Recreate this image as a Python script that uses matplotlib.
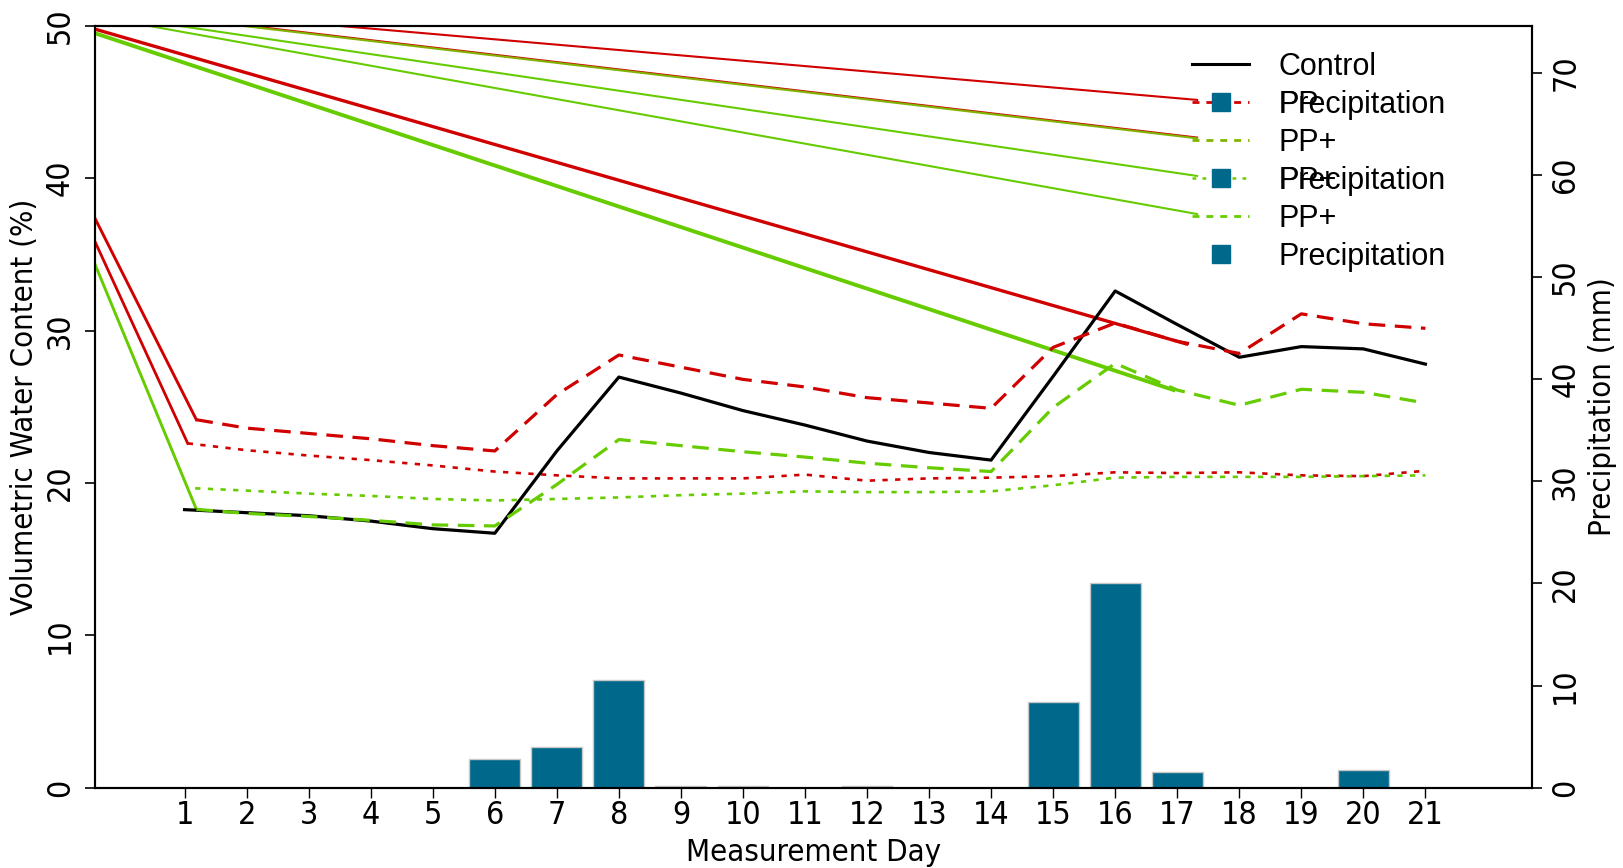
import matplotlib
matplotlib.use('Agg')
import matplotlib.pyplot as plt
from matplotlib import font_manager

# axis text in the original looks condensed; use a condensed face if one is installed
plt.rcParams['font.family'] = ['Liberation Sans', 'DejaVu Sans']
cond_family, cond_stretch = None, 'normal'
for f in font_manager.fontManager.ttflist:
    if f.name in ('Liberation Sans Narrow', 'Arial Narrow'):
        cond_family, cond_stretch = f.name, 'normal'
        break
if cond_family is None:
    for f in font_manager.fontManager.ttflist:
        if f.stretch in ('condensed', 'semi-condensed') and 'Mono' not in f.name and 'Serif' not in f.name:
            cond_family, cond_stretch = f.name, f.stretch
            break
if cond_family is None:
    axis_font = dict(family='Liberation Sans')
    lab_size, tick_size = 20, 21.5
else:
    axis_font = dict(family=cond_family, stretch=cond_stretch)
    lab_size, tick_size = 22.3, 23

# data
days = list(range(1, 22))
control = [18.25, 18.05, 17.85, 17.5, 17.0, 16.7, 22.1, 26.95, 25.9, 24.75, 23.8,
           22.75, 22.0, 21.5, 27.0, 32.6, 30.4, 28.25, 28.95, 28.8, 27.8]
pp_dash_x = [1.19] + days[1:]
pp_dash = [24.15, 23.6, 23.25, 22.9, 22.45, 22.1, 25.8, 28.4, 27.6, 26.8, 26.3,
           25.6, 25.25, 24.9, 28.9, 30.5, 29.3, 28.5, 31.1, 30.45, 30.15]
pp_dot_x = [1.05] + days[1:]
pp_dot = [22.6, 22.15, 21.8, 21.5, 21.15, 20.75, 20.5, 20.3, 20.3, 20.3, 20.55,
          20.15, 20.3, 20.35, 20.45, 20.7, 20.65, 20.7, 20.5, 20.45, 20.8]
ppplus_dash_x = [1.19] + days[1:]
ppplus_dash = [18.27, 18.0, 17.8, 17.55, 17.25, 17.18, 19.9, 22.85, 22.45, 22.05, 21.7,
               21.3, 21.0, 20.75, 24.95, 27.85, 26.1, 25.1, 26.15, 25.95, 25.25]
ppplus_dot_x = [1.17] + days[1:]
ppplus_dot = [19.65, 19.5, 19.3, 19.15, 18.95, 18.85, 18.95, 19.05, 19.2, 19.3, 19.45,
              19.4, 19.4, 19.45, 19.85, 20.35, 20.4, 20.4, 20.4, 20.45, 20.5]
precip = [0, 0, 0, 0, 0, 2.8, 3.95, 10.55, 0.15, 0.15, 0, 0.15, 0, 0, 8.35, 20.0,
          1.5, 0, 0, 1.7, 0]

# stray segments that the original drawing shows (solid lead-ins and long lines)
lead_x = [-0.44, 1.19]
pp_dash_lead = [37.33, 24.15]
pp_dot_lead_x = [-0.44, 1.05]
pp_dot_lead = [35.8, 22.6]
ppplus_dash_lead = [34.31, 18.27]
pp_long_x = [-0.44, 17.15]
pp_long = [49.78, 29.12]
ppplus_long_x = [-0.44, 16.94]
ppplus_long = [49.51, 26.1]
conn_x = [-0.44, 17.32]
conn_red = [51.38, 45.14]
conn_olive = [51.14, 42.62]
conn_green1 = [50.81, 40.15]
conn_green2 = [50.63, 37.65]

red = '#d00000'
green = '#66cc00'
olive = '#80b400'
blue = '#00688b'

fig = plt.figure(figsize=(16.23, 8.68), dpi=100)
ax = fig.add_axes([0.0587, 0.0925, 0.8853, 0.8777])
ax2 = ax.twinx()

# precipitation bars on the right axis
ax2.bar(days, precip, width=0.82, color=blue, edgecolor='#c8c8c8', linewidth=1)
ax2.set_ylim(0, 74.6)
ax2.set_yticks(range(0, 80, 10))

ax.set_zorder(ax2.get_zorder() + 1)
ax.patch.set_visible(False)

dash = (0, (5.2, 3.0))
dot = (0, (2.0, 2.8))

# stray lines
ax.plot(conn_x, conn_red, color=red, lw=1.5)
ax.plot(conn_x, [v + 0.05 for v in conn_olive], color=red, lw=1.5)
ax.plot(conn_x, conn_olive, color=olive, lw=1.5)
ax.plot(conn_x, conn_green1, color=green, lw=1.5)
ax.plot(conn_x, conn_green2, color=green, lw=1.5)
ax.plot(pp_long_x, pp_long, color=red, lw=2.4)
ax.plot(ppplus_long_x, ppplus_long, color=green, lw=2.8)
ax.plot(lead_x, pp_dash_lead, color=red, lw=2.1)
ax.plot(pp_dot_lead_x, pp_dot_lead, color=red, lw=2.0)
ax.plot(lead_x, ppplus_dash_lead, color=green, lw=2.1)

# soil water series
ax.plot(pp_dot_x, pp_dot, color=red, lw=1.9, ls=dot)
ax.plot(ppplus_dot_x, ppplus_dot, color=green, lw=1.9, ls=dot)
ax.plot(days, control, color='black', lw=2.3)
ax.plot(ppplus_dash_x, ppplus_dash, color=green, lw=2.3, ls=dash)
ax.plot(pp_dash_x, pp_dash, color=red, lw=2.3, ls=dash)

ax.set_xlim(-0.44, 22.72)
ax.set_ylim(0, 50)
ax.set_xticks(days)
ax.set_yticks(range(0, 60, 10))

for a in (ax, ax2):
    for s in a.spines.values():
        s.set_linewidth(1.5)
        s.set_color('black')

ax.tick_params(axis='x', length=7, width=1, labelsize=tick_size, pad=2)
ax.tick_params(axis='y', length=7, width=1.2, labelsize=tick_size, pad=7, labelrotation=90)
ax2.tick_params(axis='y', length=7, width=1.2, labelsize=tick_size, pad=6, labelrotation=90)
for lbl in ax.get_xticklabels() + ax.get_yticklabels() + ax2.get_yticklabels():
    lbl.set(**axis_font)
for lbl in ax.get_yticklabels() + ax2.get_yticklabels():
    lbl.set_va('center')

ax.set_xlabel('Measurement Day', fontsize=lab_size, labelpad=5, **axis_font)
ax.set_ylabel('Volumetric Water Content (%)', fontsize=lab_size, labelpad=4, **axis_font)
ax2.set_ylabel('Precipitation (mm)', fontsize=lab_size, labelpad=5, rotation=90, **axis_font)

# legend, drawn by hand in axes coordinates (rows overlap as in the original)
rows = [0.9495, 0.9000, 0.8497, 0.8002, 0.7503, 0.7004]
hx0, hx1, sqx, tx = 0.7634, 0.8033, 0.7832, 0.8234
tr = ax.transAxes
ax.plot([hx0, hx1], [rows[0]] * 2, color='black', lw=2.2, transform=tr, clip_on=False)
ax.plot([hx0, hx1], [rows[1]] * 2, color=red, lw=2.0, ls=(0, (2.5, 2.5)), transform=tr, clip_on=False)
ax.plot([hx0, hx1], [rows[2]] * 2, color=olive, lw=2.0, ls=(0, (2.5, 2.5)), transform=tr, clip_on=False)
ax.plot([hx0, hx1], [rows[3]] * 2, color=green, lw=1.8, ls=(0, (1.5, 2.5)), transform=tr, clip_on=False)
ax.plot([hx0, hx1], [rows[4]] * 2, color=green, lw=2.0, ls=(0, (2.5, 2.5)), transform=tr, clip_on=False)
for r in (rows[1], rows[3], rows[5]):
    ax.plot([sqx], [r], marker='s', ms=13.5, color=blue, ls='none', transform=tr, clip_on=False)
labels = [(0, 'Control'), (1, 'PP'), (1, 'Precipitation'), (2, 'PP+'), (3, 'PP+'),
          (3, 'Precipitation'), (4, 'PP+'), (5, 'Precipitation')]
for i, t in labels:
    ax.text(tx, rows[i] - 0.004, t, transform=tr, fontsize=22, va='center', ha='left')

fig.savefig('out.png', dpi=100)
